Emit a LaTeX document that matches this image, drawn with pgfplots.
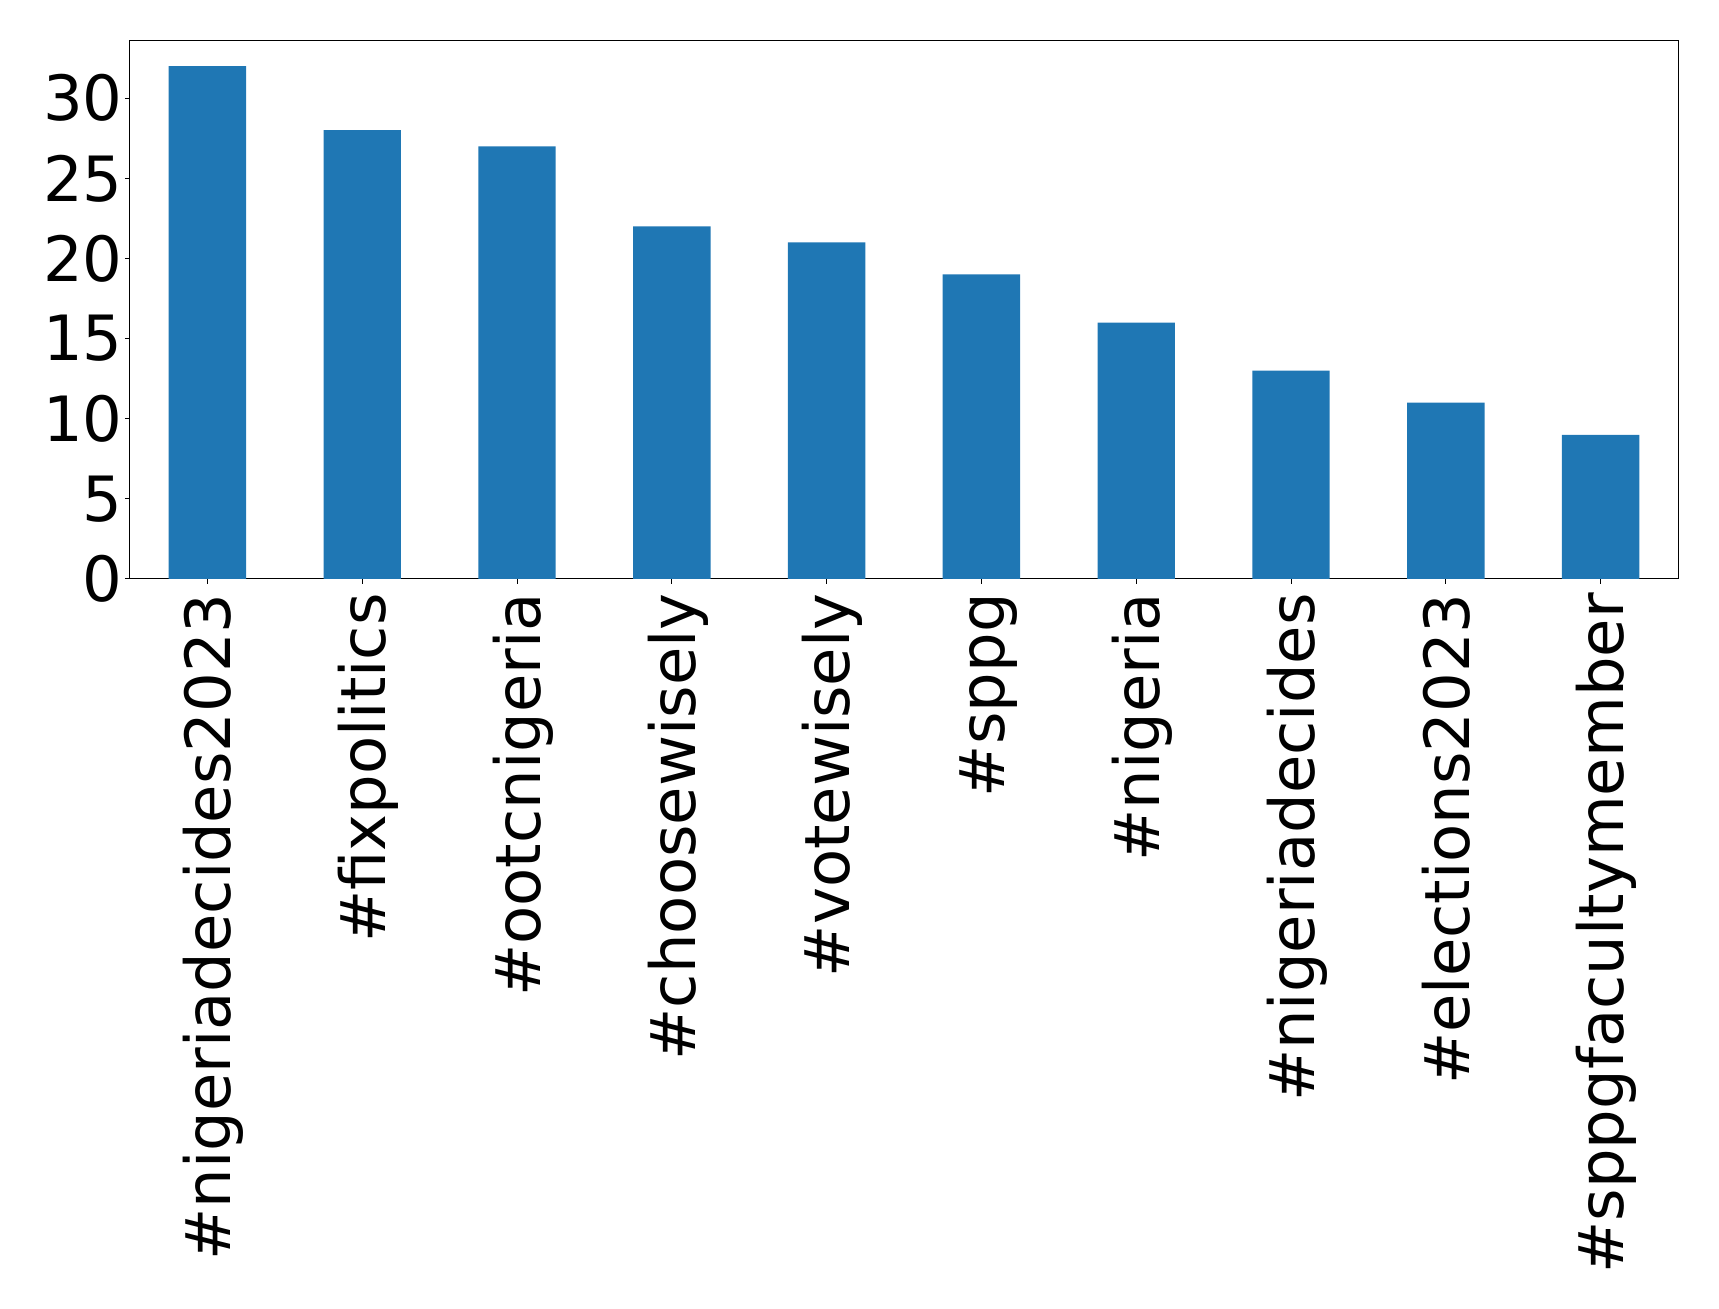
\documentclass[border=0pt]{standalone}
\usepackage{pgfplots}
\pgfplotsset{compat=1.18}
\usepackage{fontspec}
\setmainfont{DejaVu Sans}
\definecolor{tabblue}{HTML}{1F77B4}
\begin{document}
\begin{tikzpicture}
\useasboundingbox (-65pt,-365pt) rectangle (794.5pt,289.5pt);
\begin{axis}[
  at={(0,0)}, anchor=south west,
  scale only axis,
  width=774pt, height=269.25pt,
  xmin=-0.5, xmax=9.5, ymin=0, ymax=33.6,
  axis line style={line width=0.5pt},
  tick align=outside,
  xtick pos=bottom, ytick pos=left,
  major tick length=2.5pt,
  tick style={line width=0.5pt, black},
  xtick={0,...,9},
  xticklabels={\#nigeriadecides2023,\#fixpolitics,\#ootcnigeria,\#choosewisely,\#votewisely,\#sppg,\#nigeria,\#nigeriadecides,\#elections2023,\#sppgfacultymember},
  ytick={0,5,10,15,20,25,30},
  /pgf/number format/assume math mode=true,
  tick label style={font=\fontsize{31.2}{36}\selectfont},
  xticklabel style={rotate=90, anchor=east, inner xsep=4.5pt, inner ysep=0pt, text height=30.3pt, text depth=7.1pt},
  yticklabel style={inner xsep=1pt},
]
\addplot[ybar, bar width=0.5, fill=tabblue, draw=none] coordinates {
(0,32) (1,28) (2,27) (3,22) (4,21) (5,19) (6,16) (7,13) (8,11) (9,9)
};
\end{axis}
\end{tikzpicture}
\end{document}
